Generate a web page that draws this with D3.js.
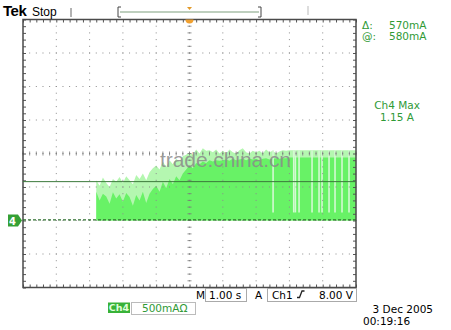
<!DOCTYPE html>
<html>
<head>
<meta charset="utf-8">
<script src="https://cdn.jsdelivr.net/npm/d3@7"></script>
<style>
  body { margin: 0; background: #fff; }
  text { font-family: "DejaVu Sans", Verdana, sans-serif; }
</style>
</head>
<body>
<div id="scope"></div>
<script>
// ---- data (Ch4, 500 mA/div, 1.00 s/div) ----
var burstStart = 2.2;   // s
var sampleStep = 0.1;   // s
// solid (dense) envelope of the burst, mA
var denseLevel = [
  430, 300, 400, 360, 250, 420, 330, 390,
  280, 410, 350, 220, 380, 300, 430, 260, 400, 470,
  520, 430, 580, 480, 620, 540, 660, 600, 700, 760,
  820, 780, 860, 840, 880, 860, 900, 880, 900, 890,
  900, 910, 890, 920, 900, 910, 920, 900, 920, 910,
  920, 900, 920, 930, 910, 920, 930, 920, 930, 930,
  940, 940, 940, 940, 940, 940, 940, 940, 940, 940,
  940, 940, 940, 940, 940, 940, 940, 940, 940, 940, 940
];
// lighter spikes above the dense part, mA
var peakLevel = [
  600, 520, 640, 560, 500, 620, 580, 650,
  560, 660, 600, 540, 680, 620, 700, 600, 720, 780,
  820, 760, 880, 800, 900, 840, 920, 880, 960, 980,
  1020, 980, 1060, 1000, 1080, 1040, 1050, 1020, 1060, 1000,
  1040, 1000, 1060, 1020, 1000, 1050, 1080, 1020, 1000, 1040,
  1020, 1040, 1000, 1060, 1020, 1040, 1000, 1030, 1050, 1040,
  1050, 1050, 1050, 1050, 1050, 1050, 1050, 1050, 1050, 1050,
  1050, 1050, 1050, 1050, 1050, 1050, 1050, 1050, 1050, 1050, 1050
];
// drop-outs near the end (s) and how low they go (mA)
var gapTimes = [7.51, 8.13, 8.18, 8.29, 8.68, 8.89, 8.98, 9.19, 9.37, 9.58, 9.79];
var gapLevel = 120;

var cursorA = 580;   // mA
var cursorB = 10;    // mA
var readouts = [["\u0394:", "570mA"], ["@:", "580mA"]];
var measure = ["Ch4 Max", "1.15 A"];
var timeBase = "1.00 s";
var trigSource = "Ch1";
var trigLevel = "8.00 V";
var chScale = "500mA\u03a9";
var dateLines = ["3 Dec 2005", "00:19:16"];

var W = 451, H = 330;
var svg = d3.select("#scope").append("svg").attr("width", W).attr("height", H);

var x = d3.scaleLinear().domain([0, 10]).range([23, 356]);
var y = d3.scaleLinear().domain([-1000, 3000]).range([287.5, 19.5]);

var green = "#2f9a36";

// ---- trace ----
var samples = denseLevel.map(function(d, i) {
  return { t: burstStart + i * sampleStep, dense: d, peak: peakLevel[i] };
});

var peakArea = d3.area()
  .x(function(d) { return x(d.t); })
  .y0(y(0))
  .y1(function(d) { return y(d.peak); });
var denseArea = d3.area()
  .x(function(d) { return x(d.t); })
  .y0(y(0))
  .y1(function(d) { return y(d.dense); });

svg.append("path").datum(samples).attr("d", peakArea).attr("fill", "#b4f7b0");
svg.append("path").datum(samples).attr("d", denseArea).attr("fill", "#68f266");

svg.selectAll("line.gap").data(gapTimes).enter().append("line")
  .attr("x1", function(d) { return x(d); }).attr("x2", function(d) { return x(d); })
  .attr("y1", y(1050)).attr("y2", y(gapLevel))
  .attr("stroke", "#d4f9d2").attr("stroke-width", 1.6);

// ---- graticule ----
var grid = svg.append("g");
var minorX = d3.range(0, 10.001, 0.2), minorY = d3.range(-1000, 3000.1, 100);
var majX = d3.range(1, 10), majY = d3.range(-500, 3000, 500);
majX.forEach(function(t) {
  minorY.forEach(function(v) {
    grid.append("rect").attr("x", x(t) - 0.5).attr("y", y(v) - 0.5)
      .attr("width", 1).attr("height", 1).attr("fill", "#8c8c8c");
  });
});
majY.forEach(function(v) {
  minorX.forEach(function(t) {
    grid.append("rect").attr("x", x(t) - 0.5).attr("y", y(v) - 0.5)
      .attr("width", 1).attr("height", 1).attr("fill", "#8c8c8c");
  });
});
// centre cross ticks
minorY.forEach(function(v) {
  grid.append("line").attr("x1", x(5) - 2).attr("x2", x(5) + 2)
    .attr("y1", y(v)).attr("y2", y(v)).attr("stroke", "#777").attr("stroke-width", 0.8);
});
minorX.forEach(function(t) {
  grid.append("line").attr("x1", x(t)).attr("x2", x(t))
    .attr("y1", y(1000) - 2).attr("y2", y(1000) + 2).attr("stroke", "#777").attr("stroke-width", 0.8);
});

// border ticks via axes
function tickAxis(axis, tf) {
  var g = svg.append("g").attr("transform", tf).call(axis.tickFormat("").tickSizeOuter(0));
  g.select(".domain").remove();
  g.selectAll(".tick line").attr("stroke", "#555");
}
tickAxis(d3.axisBottom(x).tickValues(minorX).tickSize(-3), "translate(0," + y(-1000) + ")");
tickAxis(d3.axisTop(x).tickValues(minorX).tickSize(-3), "translate(0," + y(3000) + ")");
tickAxis(d3.axisLeft(y).tickValues(minorY).tickSize(-3), "translate(" + x(0) + ",0)");
tickAxis(d3.axisRight(y).tickValues(minorY).tickSize(-3), "translate(" + x(10) + ",0)");

svg.append("rect").attr("x", x(0)).attr("y", y(3000))
  .attr("width", x(10) - x(0)).attr("height", y(-1000) - y(3000))
  .attr("fill", "none").attr("stroke", "#4a4a4a").attr("stroke-width", 1.5);

// cursors
svg.append("line").attr("x1", x(0)).attr("x2", x(10))
  .attr("y1", y(cursorA)).attr("y2", y(cursorA))
  .attr("stroke", "#3c7a3c").attr("stroke-width", 1);
svg.append("line").attr("x1", x(0)).attr("x2", x(10))
  .attr("y1", y(cursorB)).attr("y2", y(cursorB))
  .attr("stroke", "#2f6f2f").attr("stroke-width", 1.2).attr("stroke-dasharray", "3,2");

// watermark
svg.append("text").attr("x", 160).attr("y", 167).attr("textLength", 131)
  .style("font-family", "Arial, 'Liberation Sans', sans-serif")
  .attr("font-size", 21).attr("fill", "#8a8a8a").attr("fill-opacity", 0.85)
  .text("trade.china.cn");

// ground marker
var gy = y(0);
svg.append("path")
  .attr("d", "M8," + (gy - 6) + "H18L22," + gy + "L18," + (gy + 6) + "H8Z")
  .attr("fill", "#35a035");
svg.append("text").attr("x", 12.5).attr("y", gy + 4).attr("text-anchor", "middle")
  .attr("font-size", 10).attr("font-weight", "bold").attr("fill", "#fff").text("4");

// trigger position marker
svg.append("path").attr("d", "M" + (x(5) - 4) + ",19.5 A4,4 0 0 0 " + (x(5) + 4) + ",19.5Z")
  .attr("fill", "#f0a030");

// ---- top status bar ----
svg.append("text").attr("x", 3).attr("y", 16).attr("font-size", 15).attr("font-weight", "bold")
  .attr("letter-spacing", -0.5)
  .style("font-family", "Arial, 'Liberation Sans', sans-serif").text("Tek");
svg.append("text").attr("x", 32).attr("y", 16).attr("font-size", 12)
  .style("font-family", "Arial, 'Liberation Sans', sans-serif").text("Stop");
svg.append("line").attr("x1", 71).attr("x2", 71).attr("y1", 8).attr("y2", 17).attr("stroke", "#666");
svg.append("line").attr("x1", 308).attr("x2", 308).attr("y1", 6).attr("y2", 15).attr("stroke", "#bbb");
svg.append("path").attr("d", "M121,7H118V17H121").attr("fill", "none").attr("stroke", "#444");
svg.append("path").attr("d", "M258,7H261V17H258").attr("fill", "none").attr("stroke", "#444");
svg.append("line").attr("x1", 120).attr("x2", 259).attr("y1", 12).attr("y2", 12)
  .attr("stroke", "#7f9f7f").attr("stroke-width", 1.2);
svg.append("path").attr("d", "M" + (x(5) - 2.5) + ",7H" + (x(5) + 2.5) + "L" + x(5) + ",10Z").attr("fill", "#e39a2a");

// ---- right side readouts ----
readouts.forEach(function(r, i) {
  svg.append("text").attr("x", 362).attr("y", 29 + i * 11).attr("font-size", 10.5).attr("fill", green).text(r[0]);
  svg.append("text").attr("x", 389).attr("y", 29 + i * 11).attr("font-size", 10.5).attr("fill", green).text(r[1]);
});
measure.forEach(function(s, i) {
  svg.append("text").attr("x", 397).attr("y", 109 + i * 12).attr("text-anchor", "middle")
    .attr("font-size", 10.5).attr("fill", green).text(s);
});

// ---- bottom readouts ----
var bot = svg.append("g").attr("font-size", 10.5);
bot.append("text").attr("x", 196).attr("y", 299).text("M");
bot.append("rect").attr("x", 205.5).attr("y", 288.5).attr("width", 41).attr("height", 13)
  .attr("fill", "none").attr("stroke", "#aaa");
bot.append("text").attr("x", 209).attr("y", 299).text(timeBase);
bot.append("text").attr("x", 255).attr("y", 299).text("A");
bot.append("rect").attr("x", 267.5).attr("y", 288.5).attr("width", 89).attr("height", 13)
  .attr("fill", "none").attr("stroke", "#aaa");
bot.append("text").attr("x", 272).attr("y", 299).text(trigSource);
bot.append("path").attr("d", "M297,297.5H299.5L302,291H304.5").attr("fill", "none").attr("stroke", "#222").attr("stroke-width", 1.3);
bot.append("text").attr("x", 353).attr("y", 299).attr("text-anchor", "end").text(trigLevel);

bot.append("rect").attr("x", 108).attr("y", 302.5).attr("width", 22).attr("height", 10.5).attr("fill", "#38b238");
bot.append("text").attr("x", 119).attr("y", 311).attr("text-anchor", "middle").attr("font-size", 9.5)
  .attr("font-weight", "bold").attr("fill", "#dfffdc").text("Ch4");
bot.append("rect").attr("x", 131.5).attr("y", 302.5).attr("width", 64).attr("height", 12)
  .attr("fill", "none").attr("stroke", "#bbb");
bot.append("text").attr("x", 142).attr("y", 311.5).attr("fill", green).text(chScale);

bot.append("text").attr("x", 433).attr("y", 313).attr("text-anchor", "end").text(dateLines[0]);
bot.append("text").attr("x", 363).attr("y", 325).text(dateLines[1]);
</script>
</body>
</html>
